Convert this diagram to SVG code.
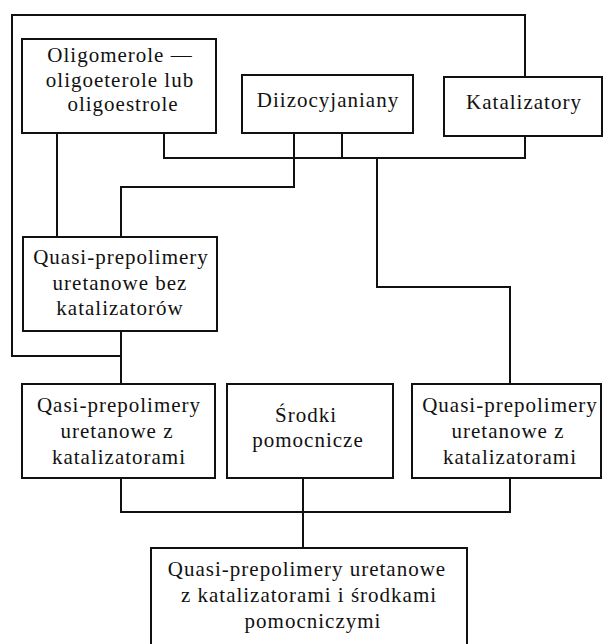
<svg xmlns="http://www.w3.org/2000/svg" width="603" height="644" viewBox="0 0 603 644">
<style>
.box{fill:#fff;stroke:#111;stroke-width:2}
.ln{fill:none;stroke:#111;stroke-width:2}
text{font-family:"Liberation Serif","Times New Roman",serif;font-size:21px;letter-spacing:1px;fill:#111;text-anchor:middle}
</style>
<rect width="603" height="644" fill="#fff"/>
<g id="connectors">
<path class="ln" d="M121,356 H12 V15 H525 V158 H164 V133"/>
<path class="ln" d="M342,133 V158"/>
<path class="ln" d="M294,133 V187 H121 V237"/>
<path class="ln" d="M57,133 V237"/>
<path class="ln" d="M377,158 V287 H510 V384"/>
<path class="ln" d="M121,331 V384"/>
<path class="ln" d="M121,478 V512 H510 V478"/>
<path class="ln" d="M303,478 V548"/>
</g>
<g id="oligomerole">
<rect class="box" x="22" y="39" width="194" height="94"/>
<text x="120" y="62">Oligomerole —</text>
<text x="120" y="87">oligoeterole lub</text>
<text x="123" y="111">oligoestrole</text>
</g>
<g id="diizocyjaniany">
<rect class="box" x="242" y="75" width="171" height="58"/>
<text x="328" y="107">Diizocyjaniany</text>
</g>
<g id="katalizatory">
<rect class="box" x="444" y="77" width="158" height="59"/>
<text x="524" y="109">Katalizatory</text>
</g>
<g id="quasi-bez">
<rect class="box" x="23" y="237" width="194" height="94"/>
<text x="121" y="264">Quasi-prepolimery</text>
<text x="120" y="290">uretanowe bez</text>
<text x="120" y="315">katalizatorów</text>
</g>
<g id="qasi-z">
<rect class="box" x="22" y="384" width="193" height="94"/>
<text x="119" y="412">Qasi-prepolimery</text>
<text x="117" y="438">uretanowe z</text>
<text x="119" y="464">katalizatorami</text>
</g>
<g id="srodki">
<rect class="box" x="227" y="384" width="166" height="94"/>
<text x="306" y="422">Środki</text>
<text x="308" y="447">pomocnicze</text>
</g>
<g id="quasi-z">
<rect class="box" x="412" y="384" width="189" height="94"/>
<text x="510" y="412">Quasi-prepolimery</text>
<text x="508" y="438">uretanowe z</text>
<text x="510" y="464">katalizatorami</text>
</g>
<g id="quasi-final">
<rect class="box" x="151" y="548" width="316" height="100"/>
<text x="307" y="576">Quasi-prepolimery uretanowe</text>
<text x="309" y="602">z katalizatorami i środkami</text>
<text x="313" y="628">pomocniczymi</text>
</g>
</svg>
